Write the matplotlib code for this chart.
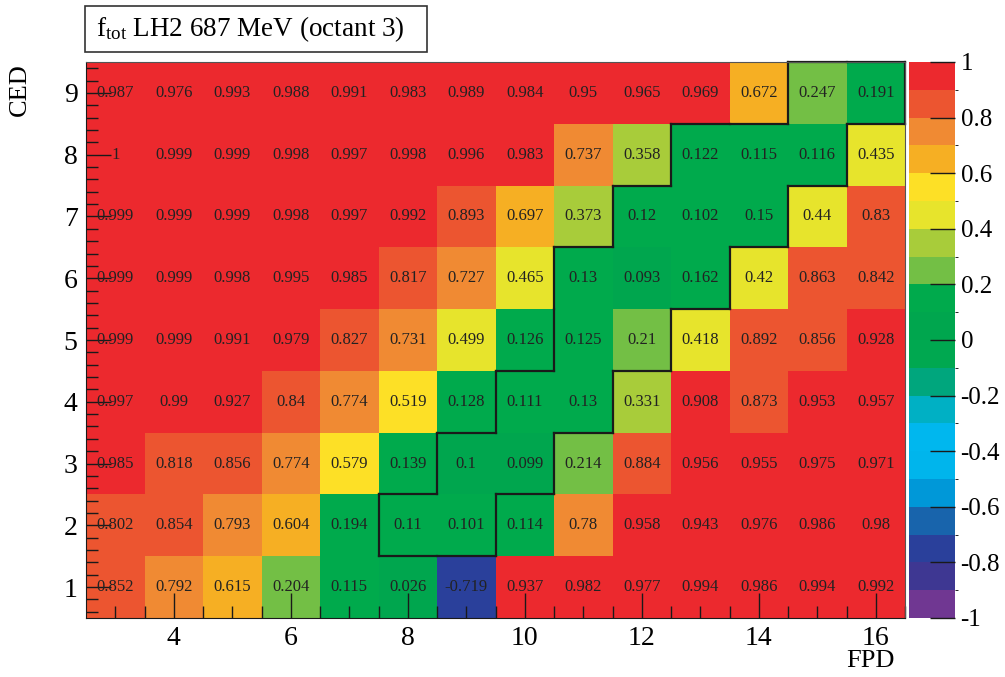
import numpy as np
import matplotlib
matplotlib.use('Agg')
import matplotlib.pyplot as plt
from matplotlib.colors import ListedColormap, BoundaryNorm
from matplotlib.patches import Rectangle

plt.rcParams['font.family'] = ['Liberation Serif', 'DejaVu Serif']
plt.rcParams['mathtext.fontset'] = 'custom'
plt.rcParams['mathtext.rm'] = 'Liberation Serif'
plt.rcParams['mathtext.it'] = 'Liberation Serif:italic'

# FPD (x) and CED (y) detector numbers
fpd = list(range(3, 17))
ced = list(range(1, 10))

# f_tot per cell, one row per CED (CED 1 first)
f_ced1 = [0.852, 0.792, 0.615, 0.204, 0.115, 0.026, -0.719, 0.937, 0.982, 0.977, 0.994, 0.986, 0.994, 0.992]
f_ced2 = [0.802, 0.854, 0.793, 0.604, 0.194, 0.11, 0.101, 0.114, 0.78, 0.958, 0.943, 0.976, 0.986, 0.98]
f_ced3 = [0.985, 0.818, 0.856, 0.774, 0.579, 0.139, 0.1, 0.099, 0.214, 0.884, 0.956, 0.955, 0.975, 0.971]
f_ced4 = [0.997, 0.99, 0.927, 0.84, 0.774, 0.519, 0.128, 0.111, 0.13, 0.331, 0.908, 0.873, 0.953, 0.957]
f_ced5 = [0.999, 0.999, 0.991, 0.979, 0.827, 0.731, 0.499, 0.126, 0.125, 0.21, 0.418, 0.892, 0.856, 0.928]
f_ced6 = [0.999, 0.999, 0.998, 0.995, 0.985, 0.817, 0.727, 0.465, 0.13, 0.093, 0.162, 0.42, 0.863, 0.842]
f_ced7 = [0.999, 0.999, 0.999, 0.998, 0.997, 0.992, 0.893, 0.697, 0.373, 0.12, 0.102, 0.15, 0.44, 0.83]
f_ced8 = [1, 0.999, 0.999, 0.998, 0.997, 0.998, 0.996, 0.983, 0.737, 0.358, 0.122, 0.115, 0.116, 0.435]
f_ced9 = [0.987, 0.976, 0.993, 0.988, 0.991, 0.983, 0.989, 0.984, 0.95, 0.965, 0.969, 0.672, 0.247, 0.191]

# elastic region cut (FPD numbers inside the cut, per CED)
cut_cells = {2: [8, 9], 3: [9, 10], 4: [10, 11], 5: [11, 12], 6: [11, 12, 13],
             7: [12, 13, 14], 8: [13, 14, 15], 9: [15, 16]}

palette = ['#703792', '#3e3792', '#2a409b', '#1864ac', '#0098d8',
           '#00b5ec', '#00b7ee', '#00b0c4', '#00a67d', '#00a850',
           '#00a64e', '#00aa4c', '#73bf45', '#a8cc3a', '#e7e42c',
           '#fde026', '#f6af23', '#f08a33', '#ec5530', '#ec292e']

z = np.array([f_ced1, f_ced2, f_ced3, f_ced4, f_ced5, f_ced6, f_ced7, f_ced8, f_ced9])
xedges = np.arange(fpd[0] - 0.5, fpd[-1] + 1.0)
yedges = np.arange(ced[0] - 0.5, ced[-1] + 1.0)

cmap = ListedColormap(palette)
cmap.set_over(palette[-1])
cmap.set_under(palette[0])
norm = BoundaryNorm(np.linspace(-1, 1, 21), cmap.N)

fig = plt.figure(figsize=(10.05, 6.77), dpi=100)
ax = fig.add_axes([86/1005, 1-618/677, 819/1005, 556/677])
cax = fig.add_axes([909/1005, 1-618/677, 46/1005, 556/677])

mesh = ax.pcolormesh(xedges, yedges, z, cmap=cmap, norm=norm)
for j, c in enumerate(ced):
    for i, f in enumerate(fpd):
        ax.text(f, c, f'{z[j, i]:g}', ha='center', va='center', fontsize=12, color='#222222')

# outline of the cut region
inside = lambda f, c: f in cut_cells.get(c, [])
for c, flist in cut_cells.items():
    for f in flist:
        x0, x1, y0, y1 = f - 0.5, f + 0.5, c - 0.5, c + 0.5
        if not inside(f, c + 1):
            ax.plot([x0, x1], [y1, y1], color='#1a1a1a', lw=1.6, solid_capstyle='projecting', clip_on=False)
        if not inside(f, c - 1):
            ax.plot([x0, x1], [y0, y0], color='#1a1a1a', lw=1.6, solid_capstyle='projecting', clip_on=False)
        if not inside(f - 1, c):
            ax.plot([x0, x0], [y0, y1], color='#1a1a1a', lw=1.6, solid_capstyle='projecting', clip_on=False)
        if not inside(f + 1, c):
            ax.plot([x1, x1], [y0, y1], color='#1a1a1a', lw=1.6, solid_capstyle='projecting', clip_on=False)

ax.set_xlim(xedges[0], xedges[-1])
ax.set_ylim(yedges[0], yedges[-1])
ax.set_xticks(np.arange(4, 17, 2))
ax.set_xticks(np.arange(3, 16.6, 0.5), minor=True)
ax.set_yticks(ced)
ax.set_yticks(np.arange(0.6, 9.5, 0.2), minor=True)
ax.tick_params(which='both', direction='in', top=False, right=False, labelsize=20, color='#1a1a1a')
ax.tick_params(which='major', length=18, width=1.0, pad=6)
ax.tick_params(which='minor', length=8.5, width=1.0)
for s in ax.spines.values():
    s.set_color('#555555')
    s.set_linewidth(0.8)
ax.spines['left'].set_color('#1a1a1a')
ax.spines['bottom'].set_color('#1a1a1a')

fig.text(895/1005, 1-661/677, 'FPD', ha='right', va='center', fontsize=19)
fig.text(20/1005, 1-90/677, 'CED', rotation=90, ha='center', va='center', fontsize=19)

cb = fig.colorbar(mesh, cax=cax, ticks=np.linspace(-1, 1, 11))
cb.ax.set_yticklabels([f'{t:g}' for t in np.linspace(-1, 1, 11)])
cb.ax.tick_params(direction='in', length=18, width=1.0, labelsize=18, pad=4, color='#1a1a1a')
cb.outline.set_visible(False)

# title box
fig.patches.append(Rectangle((85/1005, 1-52/677), 342/1005, 46/677, transform=fig.transFigure,
                             fc='white', ec='#333333', lw=1.2))
fig.text(96/1005, 1-29/677, r'f$_\mathrm{tot}$ LH2 687 MeV (octant 3)', ha='left', va='center', fontsize=19.5)

fig.savefig('out.png', dpi=100)
